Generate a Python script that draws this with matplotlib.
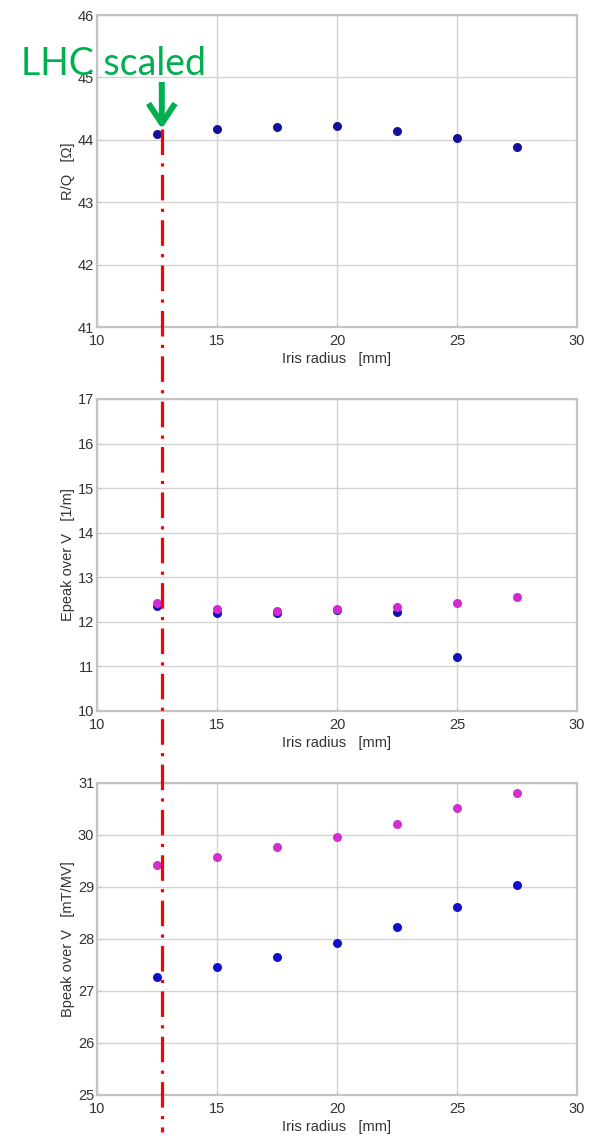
import matplotlib
matplotlib.use("Agg")
import matplotlib.pyplot as plt
import matplotlib.transforms as mtransforms
from matplotlib.lines import Line2D
import numpy as np

# Iris radius sweep [mm]
iris_radius = [12.5, 15, 17.5, 20, 22.5, 25, 27.5]

# R/Q [Ohm]
r_over_q = [44.09, 44.17, 44.21, 44.215, 44.145, 44.03, 43.89]

# Peak surface electric field over voltage [1/m]
epeak_blue = [12.36, 12.19, 12.19, 12.27, 12.23, 11.21, np.nan]
epeak_magenta = [12.42, 12.28, 12.25, 12.28, 12.34, 12.43, 12.55]

# Peak surface magnetic field over voltage [mT/MV]
bpeak_blue = [27.27, 27.46, 27.66, 27.92, 28.24, 28.61, 29.03]
bpeak_magenta = [29.42, 29.58, 29.76, 29.97, 30.21, 30.51, 30.81]

# Reference design marker
lhc_scaled_radius = 12.7
lhc_label = "LHC scaled"

x_ticks = [10, 15, 20, 25, 30]
panels = [
    dict(ylabel="R/Q   [\u03a9]", ylim=(41, 46),
         series=[(r_over_q, "#14109a")]),
    dict(ylabel="Epeak over V   [1/m]", ylim=(10, 17),
         series=[(epeak_blue, "#1212b4"), (epeak_magenta, "#d22ad2")]),
    dict(ylabel="Bpeak over V   [mT/MV]", ylim=(25, 31),
         series=[(bpeak_blue, "#1010c8"), (bpeak_magenta, "#d030d0")]),
]

W, H = 600, 1138
fig = plt.figure(figsize=(W / 100, H / 100), dpi=100)
fig.patch.set_facecolor("white")

left_px, right_px = 97, 577
tops_px = [15, 399, 783]
height_px = 312

text_color = "#333333"
grid_color = "#d4d4d4"
spine_color = "#c4c4c4"

axes = []
for top, p in zip(tops_px, panels):
    ax = fig.add_axes([left_px / W, 1 - (top + height_px) / H,
                       (right_px - left_px) / W, height_px / H])
    for vals, col in p["series"]:
        ax.plot(iris_radius, vals, linestyle="none", marker="o",
                markersize=6.5, color=col, markeredgewidth=0)
    ax.set_xlim(10, 30)
    ax.set_ylim(*p["ylim"])
    ax.set_xticks(x_ticks)
    ax.set_yticks(np.arange(p["ylim"][0], p["ylim"][1] + 1, 1))
    ax.grid(True, color=grid_color, linewidth=1.0)
    ax.set_axisbelow(True)
    for s in ax.spines.values():
        s.set_color(spine_color)
        s.set_linewidth(1.6)
    ax.tick_params(direction="in", length=3, color=spine_color,
                   labelsize=10.5, labelcolor=text_color)
    ax.tick_params(axis="x", pad=5)
    ax.tick_params(axis="y", pad=2)
    ax.set_xlabel("Iris radius   [mm]", fontsize=10.5, color=text_color,
                  labelpad=3)
    ax.set_ylabel(p["ylabel"], fontsize=10.5, color=text_color, labelpad=2)
    for lab in ax.get_xticklabels() + ax.get_yticklabels():
        lab.set_family("Liberation Sans")
    ax.xaxis.label.set_family("Liberation Sans")
    ax.yaxis.label.set_family("Liberation Sans")
    axes.append(ax)

# Vertical dash-dot marker across all panels at the LHC-scaled iris radius
blend = mtransforms.blended_transform_factory(axes[0].transData, fig.transFigure)
marker_line = Line2D([lhc_scaled_radius, lhc_scaled_radius],
                     [1 - 129 / H, 1 - 1132 / H], transform=blend,
                     color="#ff0000", linewidth=2.3,
                     linestyle=(0, (8.0, 2.6, 1.0, 2.6)),
                     solid_capstyle="butt", dash_capstyle="butt", zorder=5)
fig.add_artist(marker_line)

# Label and arrow
fig.text(21 / W, 1 - 64 / H, lhc_label, color="#00b050", fontsize=27,
         family="Lato", ha="left", va="center")
axes[0].annotate(
    "", xy=(lhc_scaled_radius, 1 - 129 / H), xycoords=blend,
    xytext=(lhc_scaled_radius, 1 - 82 / H), textcoords=blend,
    arrowprops=dict(arrowstyle="->,head_length=0.5,head_width=0.33",
                    mutation_scale=29, color="#00b050", lw=4.3,
                    shrinkA=0, shrinkB=0, capstyle="butt"),
    annotation_clip=False)

fig.savefig("out.png", dpi=100, facecolor="white")
